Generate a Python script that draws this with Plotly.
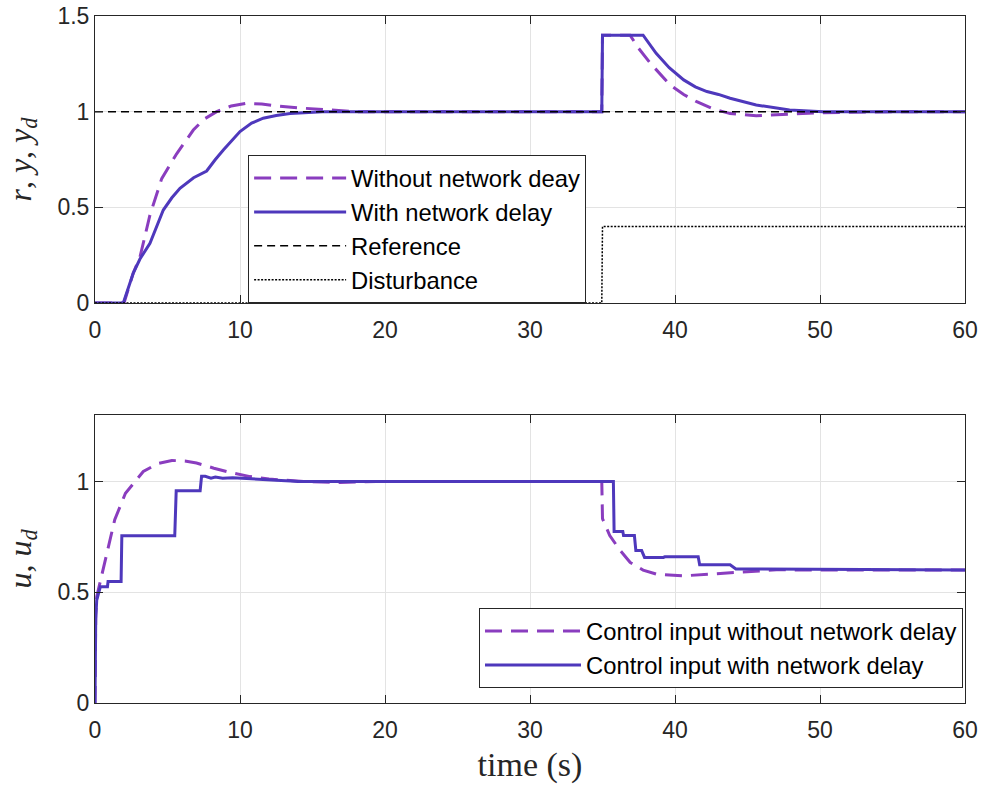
import plotly.graph_objects as go

# ---------------- data ----------------
# top panel: outputs
t_y_nodelay = [0, 2.0, 2.64, 3.1, 3.79, 4.6, 5.63, 6.78, 7.5, 8.39, 9.4, 10.46, 11.5, 12.5, 14.0, 15.7, 18.0,
               34.95, 35.0, 36.9, 37.5, 38.3, 39.66, 40.6, 41.5, 42.6, 43.8, 45.6, 47.9, 50.2, 55.0, 60.0]
y_nodelay = [0, 0, 0.157, 0.24, 0.46, 0.65, 0.78, 0.904, 0.96, 1.0, 1.03, 1.044, 1.04, 1.03, 1.02, 1.01, 1.0,
             1.0, 1.4, 1.4, 1.33, 1.253, 1.14, 1.09, 1.052, 1.015, 0.99, 0.979, 0.986, 0.995, 1.0, 1.0]

t_y_delay = [0, 1.95, 2.64, 3.1, 3.79, 4.71, 5.3, 5.86, 6.8, 7.7, 8.3, 8.85, 10.0, 10.8, 11.6, 12.5, 13.45, 15.7,
             34.95, 35.0, 37.8, 38.7, 39.6, 40.6, 41.4, 42.2, 43.0, 43.8, 45.6, 47.9, 50.2, 60.0]
y_delay = [0, 0, 0.157, 0.23, 0.312, 0.486, 0.55, 0.60, 0.655, 0.69, 0.75, 0.80, 0.896, 0.94, 0.966, 0.98, 0.99, 1.0,
           1.0, 1.4, 1.4, 1.305, 1.23, 1.166, 1.13, 1.105, 1.09, 1.07, 1.035, 1.009, 1.0, 1.0]

t_ref = [0, 60]
y_ref = [1, 1]

t_dist = [0, 34.95, 35.0, 60]
y_dist = [0, 0, 0.4, 0.4]

# bottom panel: control inputs
t_u_nodelay = [0, 0.05, 0.12, 0.62, 1.36, 2.1, 3.33, 4.3, 5.3, 6.2, 7.0, 8.2, 9.5, 10.7, 12.0, 14.4, 16.9, 19.4,
               34.95, 35.0, 35.5, 36.2, 36.9, 37.8, 38.7, 40.6, 42.4, 44.3, 47.0, 60.0]
u_nodelay = [0, 0.40, 0.48, 0.615, 0.827, 0.947, 1.045, 1.08, 1.095, 1.092, 1.083, 1.06, 1.038, 1.022, 1.011, 1.0, 0.995, 1.0,
             1.0, 0.832, 0.756, 0.69, 0.635, 0.60, 0.582, 0.574, 0.582, 0.592, 0.601, 0.6]

t_u_delay = [0, 0.05, 0.12, 0.37, 0.86, 0.9, 1.8, 1.85, 5.5, 5.6, 7.25, 7.35, 7.6, 8.0, 8.3, 8.8, 9.5, 10.5, 11.5,
             12.5, 13.5, 14.0, 35.75, 35.8, 36.4, 36.45, 37.2, 37.3, 37.7, 37.9, 39.2, 39.3, 41.6, 41.7, 43.8, 44.2, 60.0]
u_delay = [0, 0.38, 0.465, 0.525, 0.525, 0.548, 0.548, 0.755, 0.755, 0.958, 0.958, 1.023, 1.023, 1.015, 1.02, 1.015,
           1.017, 1.012, 1.008, 1.005, 1.002, 1.0, 1.0, 0.774, 0.774, 0.756, 0.756, 0.688, 0.688, 0.657, 0.657, 0.66,
           0.66, 0.624, 0.624, 0.605, 0.6]

x_ticks = [0, 10, 20, 30, 40, 50, 60]
y_ticks_top = [0, 0.5, 1, 1.5]
y_ticks_bot = [0, 0.5, 1]

# ---------------- styling ----------------
C_DASH = "#8A3DBF"
C_SOLID = "#4E38BC"
AX = "#262626"
GRID = "#E3E3E3"
TICKFONT = dict(family="Liberation Sans, Arial", size=23, color=AX)
SERIF = "Liberation Serif, Times New Roman, serif"
LEGFONT = dict(family="Liberation Sans, Arial", size=23.8, color="black")

fig = go.Figure()

fig.add_trace(go.Scatter(x=t_y_nodelay, y=y_nodelay, mode="lines", name="Without network deay",
                         line=dict(color=C_DASH, width=3, dash="17px,9px"), xaxis="x", yaxis="y", legend="legend"))
fig.add_trace(go.Scatter(x=t_y_delay, y=y_delay, mode="lines", name="With network delay",
                         line=dict(color=C_SOLID, width=3), xaxis="x", yaxis="y", legend="legend"))
fig.add_trace(go.Scatter(x=t_ref, y=y_ref, mode="lines", name="Reference",
                         line=dict(color="black", width=1.5, dash="8px,5px"), xaxis="x", yaxis="y", legend="legend"))
fig.add_trace(go.Scatter(x=t_dist, y=y_dist, mode="lines", name="Disturbance",
                         line=dict(color="black", width=1.5, dash="2px,1.5px"), xaxis="x", yaxis="y", legend="legend"))

fig.add_trace(go.Scatter(x=t_u_nodelay, y=u_nodelay, mode="lines", name="Control input without network delay",
                         line=dict(color=C_DASH, width=3, dash="17px,9px"), xaxis="x2", yaxis="y2", legend="legend2"))
fig.add_trace(go.Scatter(x=t_u_delay, y=u_delay, mode="lines", name="Control input with network delay",
                         line=dict(color=C_SOLID, width=3), xaxis="x2", yaxis="y2", legend="legend2"))

axis_common = dict(showline=True, linecolor=AX, linewidth=1, mirror="ticks", ticks="inside", ticklen=8,
                   tickcolor=AX, tickwidth=1, showgrid=True, gridcolor=GRID, gridwidth=1, zeroline=False,
                   tickfont=TICKFONT, automargin=False)

fig.update_layout(
    width=982, height=785,
    paper_bgcolor="white", plot_bgcolor="white",
    margin=dict(l=95, r=17, t=16, b=82, autoexpand=False),
    xaxis=dict(domain=[0, 1], range=[0, 60], tickvals=x_ticks, anchor="y", ticklabelstandoff=6, **axis_common),
    yaxis=dict(domain=[0.5822, 1], range=[0, 1.5], tickvals=y_ticks_top, ticktext=["0", "0.5", "1", "1.5"],
               anchor="x", title=dict(text="<i>r</i>, <i>y</i>, <i>y</i><sub><i>d</i></sub>",
                                      font=dict(family=SERIF, size=32, color=AX), standoff=16), **axis_common),
    xaxis2=dict(domain=[0, 1], range=[0, 60], tickvals=x_ticks, anchor="y2", ticklabelstandoff=6,
                title=dict(text="time (s)", font=dict(family=SERIF, size=34, color=AX), standoff=10), **axis_common),
    yaxis2=dict(domain=[0, 0.4192], range=[0, 1.3], tickvals=y_ticks_bot, ticktext=["0", "0.5", "1"], anchor="x2",
                title=dict(text="<i>u</i>, <i>u</i><sub><i>d</i></sub>",
                           font=dict(family=SERIF, size=32, color=AX), standoff=16), **axis_common),
    legend=dict(x=0.176, y=0.7977, xanchor="left", yanchor="top", bgcolor="white", bordercolor=AX, borderwidth=1,
                font=LEGFONT, itemwidth=92, tracegroupgap=0),
    legend2=dict(x=0.9977, y=0.0218, xanchor="right", yanchor="bottom", bgcolor="white", bordercolor=AX,
                 borderwidth=1, font=LEGFONT, itemwidth=96),
    showlegend=True,
)

fig.write_html("out.html", config={"displayModeBar": False},
               post_script="document.body.style.margin='0px';document.body.style.padding='0px';")
